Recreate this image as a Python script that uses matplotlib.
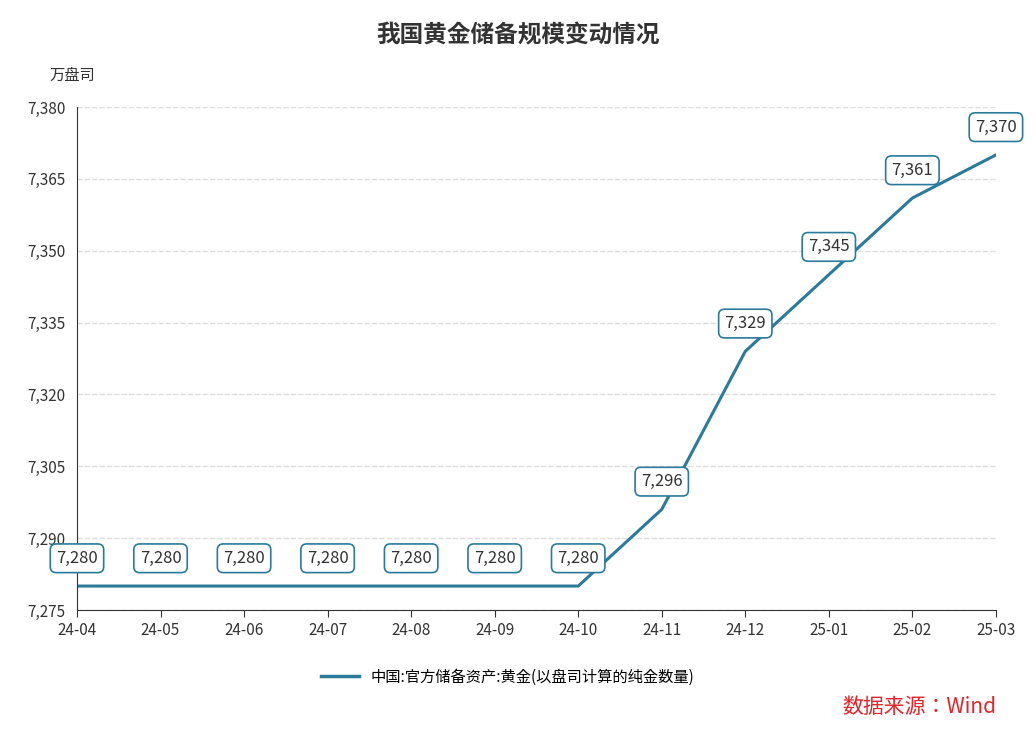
import matplotlib.pyplot as plt
from matplotlib.lines import Line2D

plt.rcParams['font.family'] = ['Noto Sans CJK SC', 'Noto Sans CJK JP', 'Noto Sans CJK TC',
                               'Noto Sans CJK KR', 'DejaVu Sans']

months = ['24-04', '24-05', '24-06', '24-07', '24-08', '24-09', '24-10',
          '24-11', '24-12', '25-01', '25-02', '25-03']
gold = [7280, 7280, 7280, 7280, 7280, 7280, 7280, 7296, 7329, 7345, 7361, 7370]
yticks = [7275, 7290, 7305, 7320, 7335, 7350, 7365, 7380]

line_color = '#2a7b9b'

fig = plt.figure(figsize=(10.36, 7.33), dpi=100)
ax = fig.add_axes([0.0743, 0.1678, 0.887, 0.6862])

x = list(range(len(months)))
ax.plot(x, gold, color=line_color, lw=2.2)

for xi, v in zip(x, gold):
    ax.annotate(f'{v:,}', (xi, v), xytext=(0, 20), textcoords='offset points',
                ha='center', va='center', fontsize=12, color='#333333',
                bbox=dict(boxstyle='round,pad=0.35', fc='white', ec=line_color, lw=1.2))

ax.set_xlim(0, len(months) - 1)
ax.set_ylim(7275, 7380)
ax.set_xticks(x)
ax.set_xticklabels(months, fontsize=11, color='#333333')
ax.set_yticks(yticks)
ax.set_yticklabels([f'{t:,}' for t in yticks], fontsize=11, color='#333333')
ax.grid(axis='y', linestyle='--', color='#dddddd', lw=1)
ax.tick_params(axis='y', length=0, pad=8)
ax.tick_params(axis='x', length=5, color='#333333')
for s in ['top', 'right']:
    ax.spines[s].set_visible(False)
ax.spines['left'].set_color('#333333')
ax.spines['bottom'].set_color('#333333')

fig.text(0.5, 0.952, '我国黄金储备规模变动情况', ha='center', va='center',
         fontsize=17, fontweight='bold', color='#333333')
fig.text(0.048, 0.897, '万盘司', ha='left', va='center', fontsize=11, color='#333333')

handle = [Line2D([0], [0], color=line_color, lw=2.5)]
fig.legend(handle, ['中国:官方储备资产:黄金(以盘司计算的纯金数量)'], loc='center',
           bbox_to_anchor=(0.49, 0.076), frameon=False, fontsize=11, handlelength=2.5)
fig.text(0.962, 0.035, '数据来源：Wind', ha='right', va='center', fontsize=15, color='#e0252b')

fig.savefig('out.png')
